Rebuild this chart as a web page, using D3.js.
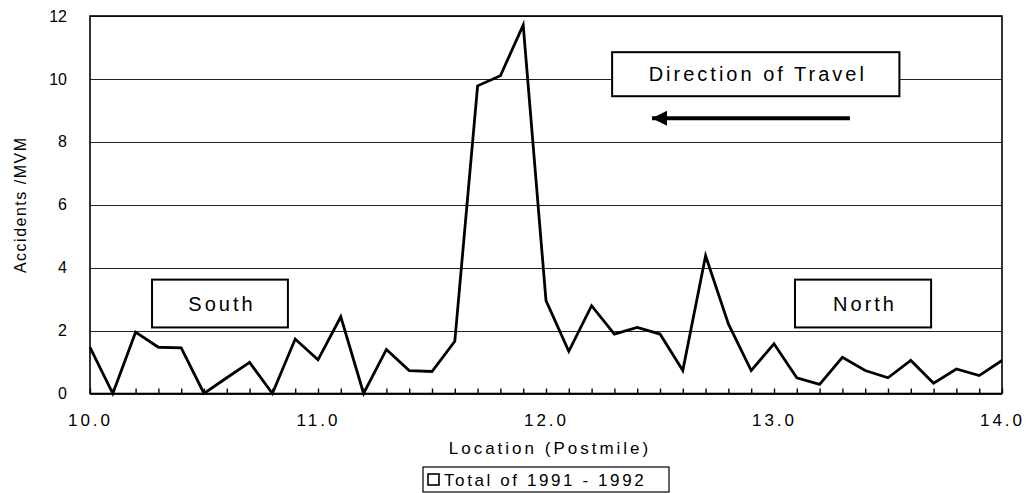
<!DOCTYPE html>
<html>
<head>
<meta charset="utf-8">
<script src="https://cdn.jsdelivr.net/npm/d3@7"></script>
<style>
  body { margin: 0; background: #fff; }
  svg { display: block; font-family: "Liberation Sans", Arial, sans-serif; }
</style>
</head>
<body>
<div id="chart"></div>
<script>
// postmile locations, every 0.1 mile
var locations = [10.0, 10.1, 10.2, 10.3, 10.4, 10.5, 10.6, 10.7, 10.8, 10.9,
                 11.0, 11.1, 11.2, 11.3, 11.4, 11.5, 11.6, 11.7, 11.8, 11.9,
                 12.0, 12.1, 12.2, 12.3, 12.4, 12.5, 12.6, 12.7, 12.8, 12.9,
                 13.0, 13.1, 13.2, 13.3, 13.4, 13.5, 13.6, 13.7, 13.8, 13.9, 14.0];
// accidents per MVM, total of 1991-1992
var rates = [1.47, 0.0, 1.95, 1.47, 1.45, 0.0, 0.5, 0.99, 0.0, 1.73,
             1.07, 2.44, 0.0, 1.40, 0.73, 0.70, 1.66, 9.78, 10.1, 11.71,
             2.95, 1.34, 2.79, 1.89, 2.10, 1.89, 0.73, 4.38, 2.21, 0.73,
             1.58, 0.50, 0.29, 1.15, 0.73, 0.50, 1.05, 0.33, 0.78, 0.57, 1.05];
var xTickLabels = [10, 11, 12, 13, 14];
var yTickLabels = [0, 2, 4, 6, 8, 10, 12];
var legendLabel = "Total of 1991 - 1992";

var width = 1027,
    height = 493,
    marginLeft = 90,
    marginRight = 25,
    marginTop = 16,
    marginBottom = 100;

var svg = d3.select("#chart")
            .append("svg")
              .attr("width", width)
              .attr("height", height);

var x = d3.scaleLinear()
          .domain([10, 14])
          .range([marginLeft, width - marginRight]);

var y = d3.scaleLinear()
          .domain([0, 12])
          .range([height - marginBottom + 0.5, marginTop]);

// horizontal grid
svg.append("g")
    .selectAll("line")
    .data(yTickLabels)
    .enter()
    .append("line")
      .attr("x1", x(10))
      .attr("x2", x(14))
      .attr("y1", function(d) { return Math.round(y(d)) + 0.5; })
      .attr("y2", function(d) { return Math.round(y(d)) + 0.5; })
      .style("stroke", "#222")
      .style("stroke-width", 1);

// frame
svg.append("rect")
    .attr("x", x(10))
    .attr("y", y(12))
    .attr("width", x(14) - x(10))
    .attr("height", y(0) - y(12))
    .style("fill", "none")
    .style("stroke", "#000")
    .style("stroke-width", 1.6);

// x axis: minor ticks inside every 0.1, labels every 1.0
var xAxis = d3.axisBottom(x)
    .tickValues(locations)
    .tickSizeInner(-5)
    .tickSizeOuter(0)
    .tickFormat(function(d) { return ""; });

svg.append("g")
    .attr("transform", "translate(0," + y(0) + ")")
    .call(xAxis)
    .call(function(g) { g.select(".domain").remove(); })
    .selectAll("line")
      .style("stroke", "#000")
      .style("stroke-width", 1.4);

var xLabels = d3.axisBottom(x)
    .tickValues(xTickLabels)
    .tickSize(0)
    .tickPadding(20)
    .tickFormat(d3.format(".1f"));

svg.append("g")
    .attr("transform", "translate(0," + y(0) + ")")
    .call(xLabels)
    .call(function(g) { g.select(".domain").remove(); })
    .selectAll("text")
      .style("font-size", "17px")
      .style("letter-spacing", "3px")
      .style("fill", "#000")
      .attr("font-family", null);

var yAxis = d3.axisLeft(y)
    .tickValues(yTickLabels)
    .tickSize(0)
    .tickPadding(23)
    .tickFormat(d3.format("d"));

svg.append("g")
    .attr("transform", "translate(" + x(10) + ",0)")
    .call(yAxis)
    .call(function(g) { g.select(".domain").remove(); })
    .selectAll("text")
      .style("font-size", "16px")
      .style("fill", "#000")
      .attr("font-family", null);

// axis titles
svg.append("text")
    .attr("transform", "translate(26," + ((y(0) + y(12)) / 2) + ") rotate(-90)")
    .attr("text-anchor", "middle")
    .style("font-size", "16px")
    .style("letter-spacing", "1.5px")
    .text("Accidents /MVM");

svg.append("text")
    .attr("x", (x(10) + x(14)) / 2 + 4)
    .attr("y", 454)
    .attr("text-anchor", "middle")
    .style("font-size", "17px")
    .style("letter-spacing", "3px")
    .text("Location (Postmile)");

// data line
var line = d3.line()
    .x(function(d, i) { return x(locations[i]); })
    .y(function(d) { return y(d); });

svg.append("path")
    .datum(rates)
    .attr("d", line)
    .style("fill", "none")
    .style("stroke", "#000")
    .style("stroke-width", 2.8)
    .style("stroke-linejoin", "miter");

// annotation boxes (placed in data units)
var notes = [
  {text: "South", x0: 10.272, x1: 10.868, y0: 3.62, y1: 2.1},
  {text: "North", x0: 13.092, x1: 13.689, y0: 3.62, y1: 2.1},
  {text: "Direction of Travel", x0: 12.29, x1: 13.55, y0: 10.85, y1: 9.45}
];

var note = svg.append("g")
    .selectAll("g")
    .data(notes)
    .enter()
    .append("g");

note.append("rect")
    .attr("x", function(d) { return x(d.x0); })
    .attr("y", function(d) { return y(d.y0); })
    .attr("width", function(d) { return x(d.x1) - x(d.x0); })
    .attr("height", function(d) { return y(d.y1) - y(d.y0); })
    .style("fill", "#fff")
    .style("stroke", "#000")
    .style("stroke-width", 2);

note.append("text")
    .attr("x", function(d) { return (x(d.x0) + x(d.x1)) / 2 + 2; })
    .attr("y", function(d) { return (y(d.y0) + y(d.y1)) / 2; })
    .attr("dy", "0.36em")
    .attr("text-anchor", "middle")
    .style("font-size", "20px")
    .style("letter-spacing", "3px")
    .text(function(d) { return d.text; });

// direction arrow
svg.append("defs")
  .append("marker")
    .attr("id", "head")
    .attr("viewBox", "0 0 10 10")
    .attr("refX", 10)
    .attr("refY", 5)
    .attr("markerWidth", 20)
    .attr("markerHeight", 15)
    .attr("markerUnits", "userSpaceOnUse")
    .attr("orient", "auto")
  .append("path")
    .attr("d", "M0,0L10,5L0,10Z")
    .style("fill", "#000");

svg.append("line")
    .attr("x1", x(13.333))
    .attr("x2", x(12.465))
    .attr("y1", y(8.75))
    .attr("y2", y(8.75))
    .style("stroke", "#000")
    .style("stroke-width", 3.8)
    .attr("marker-end", "url(#head)");

// legend
var legend = svg.append("g")
    .attr("transform", "translate(423,467)");

legend.append("rect")
    .attr("width", 246)
    .attr("height", 25)
    .style("fill", "#fff")
    .style("stroke", "#000")
    .style("stroke-width", 1.2);

legend.append("rect")
    .attr("x", 5)
    .attr("y", 7)
    .attr("width", 11)
    .attr("height", 11)
    .style("fill", "#fff")
    .style("stroke", "#000")
    .style("stroke-width", 1.6);

legend.append("text")
    .attr("x", 21)
    .attr("y", 13)
    .attr("dy", "0.36em")
    .style("font-size", "17px")
    .style("letter-spacing", "2.6px")
    .text(legendLabel);
</script>
</body>
</html>
